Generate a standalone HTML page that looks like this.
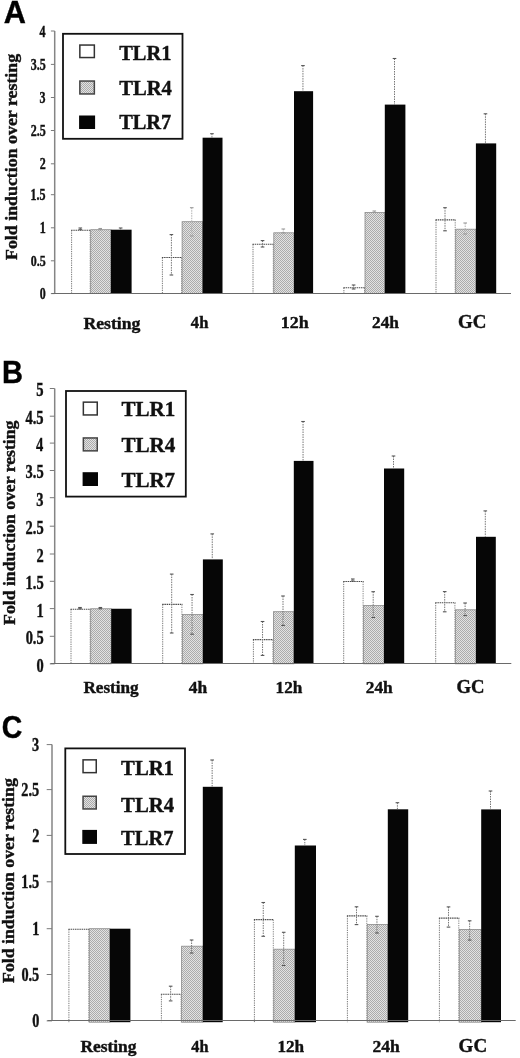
<!DOCTYPE html>
<html><head><meta charset="utf-8"><style>
html,body{margin:0;padding:0;background:#fff;}
svg{display:block;filter:grayscale(1);}
</style></head><body>
<svg width="520" height="1058" viewBox="0 0 520 1058">
<defs>
<pattern id="dot" width="2" height="2" patternUnits="userSpaceOnUse">
<rect width="2" height="2" fill="#e2e2e2"/>
<rect width="1" height="1" fill="#ababab"/>
<rect x="1" y="1" width="1" height="1" fill="#ababab"/>
</pattern>
</defs>
<rect width="520" height="1058" fill="#fff"/>
<text x="3.74" y="22.80" font-family='"Liberation Sans", sans-serif' font-weight="bold" font-size="30.52" textLength="22.17" lengthAdjust="spacingAndGlyphs" fill="#000" stroke="#000" stroke-width="0.4" >A</text>
<text transform="translate(17.00,259.70) rotate(-90)" x="-0.30" y="0" font-family='"Liberation Serif", serif' font-weight="bold" font-size="17.29" textLength="206.18" lengthAdjust="spacingAndGlyphs" fill="#111" stroke="#111" stroke-width="0.4">Fold induction over resting</text>
<line x1="54.70" y1="31.00" x2="54.70" y2="293.50" stroke="#858585" stroke-width="1.5" />
<line x1="50.90" y1="293.60" x2="54.70" y2="293.60" stroke="#7a7a7a" stroke-width="1" />
<text x="39.68" y="299.05" font-family='"Liberation Serif", serif' font-weight="bold" font-size="15.71" textLength="5.98" lengthAdjust="spacingAndGlyphs" fill="#111" stroke="#111" stroke-width="0.4" >0</text>
<line x1="50.90" y1="260.80" x2="54.70" y2="260.80" stroke="#7a7a7a" stroke-width="1" />
<text x="30.70" y="266.18" font-family='"Liberation Serif", serif' font-weight="bold" font-size="15.61" textLength="14.94" lengthAdjust="spacingAndGlyphs" fill="#111" stroke="#111" stroke-width="0.4" >0.5</text>
<line x1="50.90" y1="227.80" x2="54.70" y2="227.80" stroke="#7a7a7a" stroke-width="1" />
<text x="39.80" y="233.40" font-family='"Liberation Serif", serif' font-weight="bold" font-size="16.06" textLength="6.02" lengthAdjust="spacingAndGlyphs" fill="#111" stroke="#111" stroke-width="0.4" >1</text>
<line x1="50.90" y1="194.70" x2="54.70" y2="194.70" stroke="#7a7a7a" stroke-width="1" />
<text x="30.59" y="200.08" font-family='"Liberation Serif", serif' font-weight="bold" font-size="15.72" textLength="15.05" lengthAdjust="spacingAndGlyphs" fill="#111" stroke="#111" stroke-width="0.4" >1.5</text>
<line x1="50.90" y1="163.80" x2="54.70" y2="163.80" stroke="#7a7a7a" stroke-width="1" />
<text x="39.71" y="169.40" font-family='"Liberation Serif", serif' font-weight="bold" font-size="16.01" textLength="6.00" lengthAdjust="spacingAndGlyphs" fill="#111" stroke="#111" stroke-width="0.4" >2</text>
<line x1="50.90" y1="130.50" x2="54.70" y2="130.50" stroke="#7a7a7a" stroke-width="1" />
<text x="30.63" y="135.88" font-family='"Liberation Serif", serif' font-weight="bold" font-size="15.67" textLength="15.01" lengthAdjust="spacingAndGlyphs" fill="#111" stroke="#111" stroke-width="0.4" >2.5</text>
<line x1="50.90" y1="97.50" x2="54.70" y2="97.50" stroke="#7a7a7a" stroke-width="1" />
<text x="39.61" y="102.95" font-family='"Liberation Serif", serif' font-weight="bold" font-size="15.78" textLength="6.00" lengthAdjust="spacingAndGlyphs" fill="#111" stroke="#111" stroke-width="0.4" >3</text>
<line x1="50.90" y1="64.40" x2="54.70" y2="64.40" stroke="#7a7a7a" stroke-width="1" />
<text x="30.63" y="69.78" font-family='"Liberation Serif", serif' font-weight="bold" font-size="15.67" textLength="15.01" lengthAdjust="spacingAndGlyphs" fill="#111" stroke="#111" stroke-width="0.4" >3.5</text>
<line x1="50.90" y1="31.00" x2="54.70" y2="31.00" stroke="#7a7a7a" stroke-width="1" />
<text x="39.38" y="36.60" font-family='"Liberation Serif", serif' font-weight="bold" font-size="16.10" textLength="6.04" lengthAdjust="spacingAndGlyphs" fill="#111" stroke="#111" stroke-width="0.4" >4</text>
<rect x="71.10" y="229.70" width="19.60" height="63.80" fill="#fff" />
<line x1="71.60" y1="230.20" x2="71.60" y2="293.50" stroke="#7a7a7a" stroke-width="1" stroke-dasharray="1.3,1"/>
<line x1="90.20" y1="230.20" x2="90.20" y2="293.50" stroke="#8a8a8a" stroke-width="1" stroke-dasharray="1.3,1"/>
<line x1="71.10" y1="230.20" x2="90.70" y2="230.20" stroke="#4a4a4a" stroke-width="1.1" stroke-dasharray="1.5,0.7"/>
<line x1="80.30" y1="228.00" x2="80.30" y2="229.70" stroke="#777" stroke-width="1" stroke-dasharray="1.5,1"/>
<line x1="78.50" y1="228.00" x2="82.10" y2="228.00" stroke="#555" stroke-width="1.1" />
<line x1="78.50" y1="229.70" x2="82.10" y2="229.70" stroke="#555" stroke-width="1.1" />
<rect x="90.70" y="229.70" width="20.20" height="63.80" fill="url(#dot)" stroke="#8a8a8a" stroke-width="0.8"/>
<line x1="100.20" y1="228.50" x2="100.20" y2="229.70" stroke="#b0b0b0" stroke-width="1" stroke-dasharray="1.5,1"/>
<line x1="98.40" y1="228.50" x2="102.00" y2="228.50" stroke="#999" stroke-width="1.1" />
<line x1="98.40" y1="229.70" x2="102.00" y2="229.70" stroke="#999" stroke-width="1.1" />
<rect x="110.90" y="229.70" width="20.70" height="63.80" fill="#060606" />
<line x1="120.65" y1="228.00" x2="120.65" y2="229.70" stroke="#777" stroke-width="1" stroke-dasharray="1.5,1"/>
<line x1="118.85" y1="228.00" x2="122.45" y2="228.00" stroke="#555" stroke-width="1.1" />
<rect x="161.90" y="257.00" width="20.20" height="36.50" fill="#fff" />
<line x1="162.40" y1="257.50" x2="162.40" y2="293.50" stroke="#7a7a7a" stroke-width="1" stroke-dasharray="1.3,1"/>
<line x1="181.60" y1="257.50" x2="181.60" y2="293.50" stroke="#8a8a8a" stroke-width="1" stroke-dasharray="1.3,1"/>
<line x1="161.90" y1="257.50" x2="182.10" y2="257.50" stroke="#4a4a4a" stroke-width="1.1" stroke-dasharray="1.5,0.7"/>
<line x1="171.40" y1="234.60" x2="171.40" y2="275.00" stroke="#777" stroke-width="1" stroke-dasharray="1.5,1"/>
<line x1="169.60" y1="234.60" x2="173.20" y2="234.60" stroke="#555" stroke-width="1.1" />
<line x1="169.60" y1="275.00" x2="173.20" y2="275.00" stroke="#555" stroke-width="1.1" />
<rect x="182.10" y="221.70" width="20.50" height="71.80" fill="url(#dot)" stroke="#8a8a8a" stroke-width="0.8"/>
<line x1="191.75" y1="207.70" x2="191.75" y2="236.00" stroke="#b0b0b0" stroke-width="1" stroke-dasharray="1.5,1"/>
<line x1="189.95" y1="207.70" x2="193.55" y2="207.70" stroke="#999" stroke-width="1.1" />
<line x1="189.95" y1="236.00" x2="193.55" y2="236.00" stroke="#999" stroke-width="1.1" />
<rect x="202.60" y="137.70" width="19.90" height="155.80" fill="#060606" />
<line x1="211.95" y1="133.70" x2="211.95" y2="137.70" stroke="#777" stroke-width="1" stroke-dasharray="1.5,1"/>
<line x1="210.15" y1="133.70" x2="213.75" y2="133.70" stroke="#555" stroke-width="1.1" />
<rect x="252.50" y="243.80" width="21.30" height="49.70" fill="#fff" />
<line x1="253.00" y1="244.30" x2="253.00" y2="293.50" stroke="#7a7a7a" stroke-width="1" stroke-dasharray="1.3,1"/>
<line x1="273.30" y1="244.30" x2="273.30" y2="293.50" stroke="#8a8a8a" stroke-width="1" stroke-dasharray="1.3,1"/>
<line x1="252.50" y1="244.30" x2="273.80" y2="244.30" stroke="#4a4a4a" stroke-width="1.1" stroke-dasharray="1.5,0.7"/>
<line x1="262.55" y1="240.60" x2="262.55" y2="247.00" stroke="#777" stroke-width="1" stroke-dasharray="1.5,1"/>
<line x1="260.75" y1="240.60" x2="264.35" y2="240.60" stroke="#555" stroke-width="1.1" />
<line x1="260.75" y1="247.00" x2="264.35" y2="247.00" stroke="#555" stroke-width="1.1" />
<rect x="273.80" y="232.80" width="20.20" height="60.70" fill="url(#dot)" stroke="#8a8a8a" stroke-width="0.8"/>
<line x1="283.30" y1="229.00" x2="283.30" y2="232.80" stroke="#b0b0b0" stroke-width="1" stroke-dasharray="1.5,1"/>
<line x1="281.50" y1="229.00" x2="285.10" y2="229.00" stroke="#999" stroke-width="1.1" />
<line x1="281.50" y1="232.80" x2="285.10" y2="232.80" stroke="#999" stroke-width="1.1" />
<rect x="294.00" y="91.20" width="19.10" height="202.30" fill="#060606" />
<line x1="302.95" y1="65.60" x2="302.95" y2="91.20" stroke="#777" stroke-width="1" stroke-dasharray="1.5,1"/>
<line x1="301.15" y1="65.60" x2="304.75" y2="65.60" stroke="#555" stroke-width="1.1" />
<rect x="343.40" y="287.20" width="21.60" height="6.30" fill="#fff" />
<line x1="343.90" y1="287.70" x2="343.90" y2="293.50" stroke="#7a7a7a" stroke-width="1" stroke-dasharray="1.3,1"/>
<line x1="364.50" y1="287.70" x2="364.50" y2="293.50" stroke="#8a8a8a" stroke-width="1" stroke-dasharray="1.3,1"/>
<line x1="343.40" y1="287.70" x2="365.00" y2="287.70" stroke="#4a4a4a" stroke-width="1.1" stroke-dasharray="1.5,0.7"/>
<line x1="353.60" y1="285.00" x2="353.60" y2="289.00" stroke="#777" stroke-width="1" stroke-dasharray="1.5,1"/>
<line x1="351.80" y1="285.00" x2="355.40" y2="285.00" stroke="#555" stroke-width="1.1" />
<line x1="351.80" y1="289.00" x2="355.40" y2="289.00" stroke="#555" stroke-width="1.1" />
<rect x="365.00" y="212.50" width="19.80" height="81.00" fill="url(#dot)" stroke="#8a8a8a" stroke-width="0.8"/>
<line x1="374.30" y1="211.00" x2="374.30" y2="212.50" stroke="#b0b0b0" stroke-width="1" stroke-dasharray="1.5,1"/>
<line x1="372.50" y1="211.00" x2="376.10" y2="211.00" stroke="#999" stroke-width="1.1" />
<line x1="372.50" y1="212.50" x2="376.10" y2="212.50" stroke="#999" stroke-width="1.1" />
<rect x="384.80" y="104.60" width="20.60" height="188.90" fill="#060606" />
<line x1="394.50" y1="58.50" x2="394.50" y2="104.60" stroke="#777" stroke-width="1" stroke-dasharray="1.5,1"/>
<line x1="392.70" y1="58.50" x2="396.30" y2="58.50" stroke="#555" stroke-width="1.1" />
<rect x="435.50" y="219.40" width="20.20" height="74.10" fill="#fff" />
<line x1="436.00" y1="219.90" x2="436.00" y2="293.50" stroke="#7a7a7a" stroke-width="1" stroke-dasharray="1.3,1"/>
<line x1="455.20" y1="219.90" x2="455.20" y2="293.50" stroke="#8a8a8a" stroke-width="1" stroke-dasharray="1.3,1"/>
<line x1="435.50" y1="219.90" x2="455.70" y2="219.90" stroke="#4a4a4a" stroke-width="1.1" stroke-dasharray="1.5,0.7"/>
<line x1="445.00" y1="207.70" x2="445.00" y2="230.80" stroke="#777" stroke-width="1" stroke-dasharray="1.5,1"/>
<line x1="443.20" y1="207.70" x2="446.80" y2="207.70" stroke="#555" stroke-width="1.1" />
<line x1="443.20" y1="230.80" x2="446.80" y2="230.80" stroke="#555" stroke-width="1.1" />
<rect x="455.70" y="229.20" width="20.20" height="64.30" fill="url(#dot)" stroke="#8a8a8a" stroke-width="0.8"/>
<line x1="465.20" y1="223.00" x2="465.20" y2="234.00" stroke="#b0b0b0" stroke-width="1" stroke-dasharray="1.5,1"/>
<line x1="463.40" y1="223.00" x2="467.00" y2="223.00" stroke="#999" stroke-width="1.1" />
<line x1="463.40" y1="234.00" x2="467.00" y2="234.00" stroke="#999" stroke-width="1.1" />
<rect x="475.90" y="143.40" width="20.30" height="150.10" fill="#060606" />
<line x1="485.45" y1="113.80" x2="485.45" y2="143.40" stroke="#777" stroke-width="1" stroke-dasharray="1.5,1"/>
<line x1="483.65" y1="113.80" x2="487.25" y2="113.80" stroke="#555" stroke-width="1.1" />
<line x1="51.60" y1="293.50" x2="511.00" y2="293.50" stroke="#6a6a6a" stroke-width="1.1" />
<rect x="63.00" y="33.80" width="119.50" height="105.00" fill="#fff" stroke="#111" stroke-width="1.8"/>
<rect x="79.85" y="45.05" width="14.50" height="12.50" fill="#fff" stroke="#333" stroke-width="1.5"/>
<text x="119.18" y="59.60" font-family='"Liberation Serif", serif' font-weight="bold" font-size="21.36" textLength="52.18" lengthAdjust="spacingAndGlyphs" fill="#111" stroke="#111" stroke-width="0.4" >TLR1</text>
<rect x="79.85" y="81.05" width="14.50" height="12.90" fill="url(#dot)" stroke="#444" stroke-width="1.5"/>
<text x="119.18" y="95.30" font-family='"Liberation Serif", serif' font-weight="bold" font-size="21.42" textLength="52.70" lengthAdjust="spacingAndGlyphs" fill="#111" stroke="#111" stroke-width="0.4" >TLR4</text>
<rect x="79.85" y="116.25" width="14.50" height="12.00" fill="#050505" stroke="#050505" stroke-width="1.5"/>
<text x="119.18" y="129.20" font-family='"Liberation Serif", serif' font-weight="bold" font-size="21.53" textLength="52.12" lengthAdjust="spacingAndGlyphs" fill="#111" stroke="#111" stroke-width="0.4" >TLR7</text>
<text x="83.40" y="328.60" font-family='"Liberation Serif", serif' font-weight="bold" font-size="17.15" textLength="56.97" lengthAdjust="spacingAndGlyphs" fill="#111" stroke="#111" stroke-width="0.4" >Resting</text>
<text x="190.87" y="328.20" font-family='"Liberation Serif", serif' font-weight="bold" font-size="16.57" textLength="17.48" lengthAdjust="spacingAndGlyphs" fill="#111" stroke="#111" stroke-width="0.4" >4h</text>
<text x="280.76" y="328.00" font-family='"Liberation Serif", serif' font-weight="bold" font-size="17.01" textLength="27.91" lengthAdjust="spacingAndGlyphs" fill="#111" stroke="#111" stroke-width="0.4" >12h</text>
<text x="371.97" y="328.00" font-family='"Liberation Serif", serif' font-weight="bold" font-size="17.15" textLength="26.99" lengthAdjust="spacingAndGlyphs" fill="#111" stroke="#111" stroke-width="0.4" >24h</text>
<text x="458.08" y="328.42" font-family='"Liberation Serif", serif' font-weight="bold" font-size="18.31" textLength="28.36" lengthAdjust="spacingAndGlyphs" fill="#111" stroke="#111" stroke-width="0.4" >GC</text>
<text x="1.96" y="383.40" font-family='"Liberation Sans", sans-serif' font-weight="bold" font-size="31.11" textLength="20.96" lengthAdjust="spacingAndGlyphs" fill="#000" stroke="#000" stroke-width="0.4" >B</text>
<text transform="translate(14.80,624.60) rotate(-90)" x="-0.30" y="0" font-family='"Liberation Serif", serif' font-weight="bold" font-size="17.29" textLength="204.37" lengthAdjust="spacingAndGlyphs" fill="#111" stroke="#111" stroke-width="0.4">Fold induction over resting</text>
<line x1="54.70" y1="388.50" x2="54.70" y2="663.80" stroke="#858585" stroke-width="1.5" />
<line x1="49.80" y1="663.90" x2="54.70" y2="663.90" stroke="#7a7a7a" stroke-width="1" />
<text x="36.45" y="671.72" font-family='"Liberation Serif", serif' font-weight="bold" font-size="18.67" textLength="7.20" lengthAdjust="spacingAndGlyphs" fill="#111" stroke="#111" stroke-width="0.4" >0</text>
<line x1="49.80" y1="636.30" x2="54.70" y2="636.30" stroke="#7a7a7a" stroke-width="1" />
<text x="25.63" y="644.04" font-family='"Liberation Serif", serif' font-weight="bold" font-size="18.55" textLength="18.00" lengthAdjust="spacingAndGlyphs" fill="#111" stroke="#111" stroke-width="0.4" >0.5</text>
<line x1="49.80" y1="608.60" x2="54.70" y2="608.60" stroke="#7a7a7a" stroke-width="1" />
<text x="36.60" y="616.60" font-family='"Liberation Serif", serif' font-weight="bold" font-size="19.09" textLength="7.25" lengthAdjust="spacingAndGlyphs" fill="#111" stroke="#111" stroke-width="0.4" >1</text>
<line x1="49.80" y1="581.30" x2="54.70" y2="581.30" stroke="#7a7a7a" stroke-width="1" />
<text x="25.50" y="589.04" font-family='"Liberation Serif", serif' font-weight="bold" font-size="18.69" textLength="18.13" lengthAdjust="spacingAndGlyphs" fill="#111" stroke="#111" stroke-width="0.4" >1.5</text>
<line x1="49.80" y1="554.00" x2="54.70" y2="554.00" stroke="#7a7a7a" stroke-width="1" />
<text x="36.49" y="562.00" font-family='"Liberation Serif", serif' font-weight="bold" font-size="19.03" textLength="7.23" lengthAdjust="spacingAndGlyphs" fill="#111" stroke="#111" stroke-width="0.4" >2</text>
<line x1="49.80" y1="526.20" x2="54.70" y2="526.20" stroke="#7a7a7a" stroke-width="1" />
<text x="25.55" y="533.94" font-family='"Liberation Serif", serif' font-weight="bold" font-size="18.63" textLength="18.08" lengthAdjust="spacingAndGlyphs" fill="#111" stroke="#111" stroke-width="0.4" >2.5</text>
<line x1="49.80" y1="497.70" x2="54.70" y2="497.70" stroke="#7a7a7a" stroke-width="1" />
<text x="36.36" y="505.52" font-family='"Liberation Serif", serif' font-weight="bold" font-size="18.75" textLength="7.23" lengthAdjust="spacingAndGlyphs" fill="#111" stroke="#111" stroke-width="0.4" >3</text>
<line x1="49.80" y1="470.50" x2="54.70" y2="470.50" stroke="#7a7a7a" stroke-width="1" />
<text x="25.55" y="478.24" font-family='"Liberation Serif", serif' font-weight="bold" font-size="18.63" textLength="18.08" lengthAdjust="spacingAndGlyphs" fill="#111" stroke="#111" stroke-width="0.4" >3.5</text>
<line x1="49.80" y1="443.10" x2="54.70" y2="443.10" stroke="#7a7a7a" stroke-width="1" />
<text x="36.10" y="451.10" font-family='"Liberation Serif", serif' font-weight="bold" font-size="19.14" textLength="7.27" lengthAdjust="spacingAndGlyphs" fill="#111" stroke="#111" stroke-width="0.4" >4</text>
<line x1="49.80" y1="416.20" x2="54.70" y2="416.20" stroke="#7a7a7a" stroke-width="1" />
<text x="25.45" y="423.93" font-family='"Liberation Serif", serif' font-weight="bold" font-size="18.74" textLength="18.19" lengthAdjust="spacingAndGlyphs" fill="#111" stroke="#111" stroke-width="0.4" >4.5</text>
<line x1="49.80" y1="388.50" x2="54.70" y2="388.50" stroke="#7a7a7a" stroke-width="1" />
<text x="36.32" y="396.31" font-family='"Liberation Serif", serif' font-weight="bold" font-size="18.96" textLength="7.31" lengthAdjust="spacingAndGlyphs" fill="#111" stroke="#111" stroke-width="0.4" >5</text>
<rect x="70.50" y="608.75" width="20.20" height="55.05" fill="#fff" />
<line x1="71.00" y1="609.25" x2="71.00" y2="663.80" stroke="#7a7a7a" stroke-width="1" stroke-dasharray="1.3,1"/>
<line x1="90.20" y1="609.25" x2="90.20" y2="663.80" stroke="#8a8a8a" stroke-width="1" stroke-dasharray="1.3,1"/>
<line x1="70.50" y1="609.25" x2="90.70" y2="609.25" stroke="#4a4a4a" stroke-width="1.1" stroke-dasharray="1.5,0.7"/>
<line x1="80.00" y1="607.50" x2="80.00" y2="608.75" stroke="#777" stroke-width="1" stroke-dasharray="1.5,1"/>
<line x1="78.20" y1="607.50" x2="81.80" y2="607.50" stroke="#555" stroke-width="1.1" />
<line x1="78.20" y1="608.75" x2="81.80" y2="608.75" stroke="#555" stroke-width="1.1" />
<rect x="90.70" y="608.75" width="20.50" height="55.05" fill="url(#dot)" stroke="#8a8a8a" stroke-width="0.8"/>
<line x1="100.35" y1="607.50" x2="100.35" y2="608.75" stroke="#777" stroke-width="1" stroke-dasharray="1.5,1"/>
<line x1="98.55" y1="607.50" x2="102.15" y2="607.50" stroke="#555" stroke-width="1.1" />
<line x1="98.55" y1="608.75" x2="102.15" y2="608.75" stroke="#555" stroke-width="1.1" />
<rect x="111.20" y="608.75" width="20.40" height="55.05" fill="#060606" />
<rect x="162.20" y="603.90" width="20.20" height="59.90" fill="#fff" />
<line x1="162.70" y1="604.40" x2="162.70" y2="663.80" stroke="#7a7a7a" stroke-width="1" stroke-dasharray="1.3,1"/>
<line x1="181.90" y1="604.40" x2="181.90" y2="663.80" stroke="#8a8a8a" stroke-width="1" stroke-dasharray="1.3,1"/>
<line x1="162.20" y1="604.40" x2="182.40" y2="604.40" stroke="#4a4a4a" stroke-width="1.1" stroke-dasharray="1.5,0.7"/>
<line x1="171.70" y1="574.10" x2="171.70" y2="633.00" stroke="#777" stroke-width="1" stroke-dasharray="1.5,1"/>
<line x1="169.90" y1="574.10" x2="173.50" y2="574.10" stroke="#555" stroke-width="1.1" />
<line x1="169.90" y1="633.00" x2="173.50" y2="633.00" stroke="#555" stroke-width="1.1" />
<rect x="182.40" y="614.60" width="20.50" height="49.20" fill="url(#dot)" stroke="#8a8a8a" stroke-width="0.8"/>
<line x1="192.05" y1="594.50" x2="192.05" y2="634.20" stroke="#777" stroke-width="1" stroke-dasharray="1.5,1"/>
<line x1="190.25" y1="594.50" x2="193.85" y2="594.50" stroke="#555" stroke-width="1.1" />
<line x1="190.25" y1="634.20" x2="193.85" y2="634.20" stroke="#555" stroke-width="1.1" />
<rect x="202.90" y="559.40" width="19.90" height="104.40" fill="#060606" />
<line x1="212.25" y1="533.90" x2="212.25" y2="559.40" stroke="#777" stroke-width="1" stroke-dasharray="1.5,1"/>
<line x1="210.45" y1="533.90" x2="214.05" y2="533.90" stroke="#555" stroke-width="1.1" />
<rect x="252.90" y="639.10" width="20.50" height="24.70" fill="#fff" />
<line x1="253.40" y1="639.60" x2="253.40" y2="663.80" stroke="#7a7a7a" stroke-width="1" stroke-dasharray="1.3,1"/>
<line x1="272.90" y1="639.60" x2="272.90" y2="663.80" stroke="#8a8a8a" stroke-width="1" stroke-dasharray="1.3,1"/>
<line x1="252.90" y1="639.60" x2="273.40" y2="639.60" stroke="#4a4a4a" stroke-width="1.1" stroke-dasharray="1.5,0.7"/>
<line x1="262.55" y1="621.50" x2="262.55" y2="655.40" stroke="#777" stroke-width="1" stroke-dasharray="1.5,1"/>
<line x1="260.75" y1="621.50" x2="264.35" y2="621.50" stroke="#555" stroke-width="1.1" />
<line x1="260.75" y1="655.40" x2="264.35" y2="655.40" stroke="#555" stroke-width="1.1" />
<rect x="273.40" y="611.70" width="20.40" height="52.10" fill="url(#dot)" stroke="#8a8a8a" stroke-width="0.8"/>
<line x1="283.00" y1="596.00" x2="283.00" y2="625.50" stroke="#777" stroke-width="1" stroke-dasharray="1.5,1"/>
<line x1="281.20" y1="596.00" x2="284.80" y2="596.00" stroke="#555" stroke-width="1.1" />
<line x1="281.20" y1="625.50" x2="284.80" y2="625.50" stroke="#555" stroke-width="1.1" />
<rect x="293.80" y="460.90" width="19.70" height="202.90" fill="#060606" />
<line x1="303.05" y1="421.50" x2="303.05" y2="460.90" stroke="#777" stroke-width="1" stroke-dasharray="1.5,1"/>
<line x1="301.25" y1="421.50" x2="304.85" y2="421.50" stroke="#555" stroke-width="1.1" />
<rect x="343.20" y="581.00" width="20.40" height="82.80" fill="#fff" />
<line x1="343.70" y1="581.50" x2="343.70" y2="663.80" stroke="#7a7a7a" stroke-width="1" stroke-dasharray="1.3,1"/>
<line x1="363.10" y1="581.50" x2="363.10" y2="663.80" stroke="#8a8a8a" stroke-width="1" stroke-dasharray="1.3,1"/>
<line x1="343.20" y1="581.50" x2="363.60" y2="581.50" stroke="#4a4a4a" stroke-width="1.1" stroke-dasharray="1.5,0.7"/>
<line x1="352.80" y1="579.00" x2="352.80" y2="581.00" stroke="#777" stroke-width="1" stroke-dasharray="1.5,1"/>
<line x1="351.00" y1="579.00" x2="354.60" y2="579.00" stroke="#555" stroke-width="1.1" />
<line x1="351.00" y1="581.00" x2="354.60" y2="581.00" stroke="#555" stroke-width="1.1" />
<rect x="363.60" y="605.50" width="20.40" height="58.30" fill="url(#dot)" stroke="#8a8a8a" stroke-width="0.8"/>
<line x1="373.20" y1="591.70" x2="373.20" y2="617.50" stroke="#777" stroke-width="1" stroke-dasharray="1.5,1"/>
<line x1="371.40" y1="591.70" x2="375.00" y2="591.70" stroke="#555" stroke-width="1.1" />
<line x1="371.40" y1="617.50" x2="375.00" y2="617.50" stroke="#555" stroke-width="1.1" />
<rect x="384.00" y="468.50" width="20.20" height="195.30" fill="#060606" />
<line x1="393.50" y1="456.00" x2="393.50" y2="468.50" stroke="#777" stroke-width="1" stroke-dasharray="1.5,1"/>
<line x1="391.70" y1="456.00" x2="395.30" y2="456.00" stroke="#555" stroke-width="1.1" />
<rect x="435.20" y="602.30" width="20.20" height="61.50" fill="#fff" />
<line x1="435.70" y1="602.80" x2="435.70" y2="663.80" stroke="#7a7a7a" stroke-width="1" stroke-dasharray="1.3,1"/>
<line x1="454.90" y1="602.80" x2="454.90" y2="663.80" stroke="#8a8a8a" stroke-width="1" stroke-dasharray="1.3,1"/>
<line x1="435.20" y1="602.80" x2="455.40" y2="602.80" stroke="#4a4a4a" stroke-width="1.1" stroke-dasharray="1.5,0.7"/>
<line x1="444.70" y1="591.60" x2="444.70" y2="611.80" stroke="#777" stroke-width="1" stroke-dasharray="1.5,1"/>
<line x1="442.90" y1="591.60" x2="446.50" y2="591.60" stroke="#555" stroke-width="1.1" />
<line x1="442.90" y1="611.80" x2="446.50" y2="611.80" stroke="#555" stroke-width="1.1" />
<rect x="455.40" y="609.80" width="20.60" height="54.00" fill="url(#dot)" stroke="#8a8a8a" stroke-width="0.8"/>
<line x1="465.10" y1="603.00" x2="465.10" y2="615.60" stroke="#777" stroke-width="1" stroke-dasharray="1.5,1"/>
<line x1="463.30" y1="603.00" x2="466.90" y2="603.00" stroke="#555" stroke-width="1.1" />
<line x1="463.30" y1="615.60" x2="466.90" y2="615.60" stroke="#555" stroke-width="1.1" />
<rect x="476.00" y="536.80" width="19.80" height="127.00" fill="#060606" />
<line x1="485.30" y1="510.90" x2="485.30" y2="536.80" stroke="#777" stroke-width="1" stroke-dasharray="1.5,1"/>
<line x1="483.50" y1="510.90" x2="487.10" y2="510.90" stroke="#555" stroke-width="1.1" />
<line x1="50.50" y1="663.50" x2="511.30" y2="663.50" stroke="#6a6a6a" stroke-width="1.1" />
<rect x="66.00" y="391.00" width="119.80" height="105.60" fill="#fff" stroke="#111" stroke-width="1.8"/>
<rect x="83.35" y="402.15" width="13.90" height="12.80" fill="#fff" stroke="#333" stroke-width="1.5"/>
<text x="121.47" y="416.40" font-family='"Liberation Serif", serif' font-weight="bold" font-size="21.51" textLength="53.72" lengthAdjust="spacingAndGlyphs" fill="#111" stroke="#111" stroke-width="0.4" >TLR1</text>
<rect x="83.35" y="437.95" width="13.90" height="12.90" fill="url(#dot)" stroke="#444" stroke-width="1.5"/>
<text x="121.47" y="452.30" font-family='"Liberation Serif", serif' font-weight="bold" font-size="21.57" textLength="53.92" lengthAdjust="spacingAndGlyphs" fill="#111" stroke="#111" stroke-width="0.4" >TLR4</text>
<rect x="83.35" y="472.95" width="13.90" height="12.30" fill="#050505" stroke="#050505" stroke-width="1.5"/>
<text x="121.47" y="487.20" font-family='"Liberation Serif", serif' font-weight="bold" font-size="21.23" textLength="53.64" lengthAdjust="spacingAndGlyphs" fill="#111" stroke="#111" stroke-width="0.4" >TLR7</text>
<text x="83.41" y="693.40" font-family='"Liberation Serif", serif' font-weight="bold" font-size="16.00" textLength="55.26" lengthAdjust="spacingAndGlyphs" fill="#111" stroke="#111" stroke-width="0.4" >Resting</text>
<text x="188.76" y="693.10" font-family='"Liberation Serif", serif' font-weight="bold" font-size="16.86" textLength="18.40" lengthAdjust="spacingAndGlyphs" fill="#111" stroke="#111" stroke-width="0.4" >4h</text>
<text x="275.62" y="693.10" font-family='"Liberation Serif", serif' font-weight="bold" font-size="17.29" textLength="26.74" lengthAdjust="spacingAndGlyphs" fill="#111" stroke="#111" stroke-width="0.4" >12h</text>
<text x="365.77" y="693.10" font-family='"Liberation Serif", serif' font-weight="bold" font-size="17.29" textLength="26.99" lengthAdjust="spacingAndGlyphs" fill="#111" stroke="#111" stroke-width="0.4" >24h</text>
<text x="456.59" y="693.22" font-family='"Liberation Serif", serif' font-weight="bold" font-size="18.60" textLength="28.04" lengthAdjust="spacingAndGlyphs" fill="#111" stroke="#111" stroke-width="0.4" >GC</text>
<text x="1.73" y="738.40" font-family='"Liberation Sans", sans-serif' font-weight="bold" font-size="30.65" textLength="20.54" lengthAdjust="spacingAndGlyphs" fill="#000" stroke="#000" stroke-width="0.4" >C</text>
<text transform="translate(13.90,982.60) rotate(-90)" x="-0.30" y="0" font-family='"Liberation Serif", serif' font-weight="bold" font-size="17.15" textLength="204.67" lengthAdjust="spacingAndGlyphs" fill="#111" stroke="#111" stroke-width="0.4">Fold induction over resting</text>
<line x1="52.00" y1="744.60" x2="52.00" y2="1020.90" stroke="#858585" stroke-width="1.5" />
<line x1="46.70" y1="1020.90" x2="52.00" y2="1020.90" stroke="#7a7a7a" stroke-width="1" />
<text x="32.13" y="1027.32" font-family='"Liberation Serif", serif' font-weight="bold" font-size="18.08" textLength="7.11" lengthAdjust="spacingAndGlyphs" fill="#111" stroke="#111" stroke-width="0.4" >0</text>
<line x1="46.70" y1="974.50" x2="52.00" y2="974.50" stroke="#7a7a7a" stroke-width="1" />
<text x="21.45" y="980.85" font-family='"Liberation Serif", serif' font-weight="bold" font-size="17.96" textLength="17.77" lengthAdjust="spacingAndGlyphs" fill="#111" stroke="#111" stroke-width="0.4" >0.5</text>
<line x1="46.70" y1="928.70" x2="52.00" y2="928.70" stroke="#7a7a7a" stroke-width="1" />
<text x="32.28" y="935.30" font-family='"Liberation Serif", serif' font-weight="bold" font-size="18.48" textLength="7.16" lengthAdjust="spacingAndGlyphs" fill="#111" stroke="#111" stroke-width="0.4" >1</text>
<line x1="46.70" y1="881.80" x2="52.00" y2="881.80" stroke="#7a7a7a" stroke-width="1" />
<text x="21.32" y="888.14" font-family='"Liberation Serif", serif' font-weight="bold" font-size="18.09" textLength="17.90" lengthAdjust="spacingAndGlyphs" fill="#111" stroke="#111" stroke-width="0.4" >1.5</text>
<line x1="46.70" y1="835.40" x2="52.00" y2="835.40" stroke="#7a7a7a" stroke-width="1" />
<text x="32.17" y="842.00" font-family='"Liberation Serif", serif' font-weight="bold" font-size="18.43" textLength="7.14" lengthAdjust="spacingAndGlyphs" fill="#111" stroke="#111" stroke-width="0.4" >2</text>
<line x1="46.70" y1="789.60" x2="52.00" y2="789.60" stroke="#7a7a7a" stroke-width="1" />
<text x="21.37" y="795.94" font-family='"Liberation Serif", serif' font-weight="bold" font-size="18.04" textLength="17.85" lengthAdjust="spacingAndGlyphs" fill="#111" stroke="#111" stroke-width="0.4" >2.5</text>
<line x1="46.70" y1="744.60" x2="52.00" y2="744.60" stroke="#7a7a7a" stroke-width="1" />
<text x="32.05" y="751.02" font-family='"Liberation Serif", serif' font-weight="bold" font-size="18.16" textLength="7.14" lengthAdjust="spacingAndGlyphs" fill="#111" stroke="#111" stroke-width="0.4" >3</text>
<rect x="68.40" y="928.70" width="20.90" height="93.50" fill="#fff" />
<line x1="68.90" y1="929.20" x2="68.90" y2="1022.20" stroke="#7a7a7a" stroke-width="1" stroke-dasharray="1.3,1"/>
<line x1="88.80" y1="929.20" x2="88.80" y2="1022.20" stroke="#8a8a8a" stroke-width="1" stroke-dasharray="1.3,1"/>
<line x1="68.40" y1="929.20" x2="89.30" y2="929.20" stroke="#4a4a4a" stroke-width="1.1" stroke-dasharray="1.5,0.7"/>
<rect x="89.30" y="928.70" width="20.50" height="93.50" fill="url(#dot)" stroke="#8a8a8a" stroke-width="0.8"/>
<rect x="109.80" y="928.70" width="20.60" height="93.50" fill="#060606" />
<rect x="160.90" y="993.80" width="20.70" height="28.40" fill="#fff" />
<line x1="161.40" y1="994.30" x2="161.40" y2="1022.20" stroke="#7a7a7a" stroke-width="1" stroke-dasharray="1.3,1"/>
<line x1="181.10" y1="994.30" x2="181.10" y2="1022.20" stroke="#8a8a8a" stroke-width="1" stroke-dasharray="1.3,1"/>
<line x1="160.90" y1="994.30" x2="181.60" y2="994.30" stroke="#4a4a4a" stroke-width="1.1" stroke-dasharray="1.5,0.7"/>
<line x1="170.65" y1="986.20" x2="170.65" y2="1000.90" stroke="#777" stroke-width="1" stroke-dasharray="1.5,1"/>
<line x1="168.85" y1="986.20" x2="172.45" y2="986.20" stroke="#555" stroke-width="1.1" />
<line x1="168.85" y1="1000.90" x2="172.45" y2="1000.90" stroke="#555" stroke-width="1.1" />
<rect x="181.60" y="946.20" width="21.20" height="76.00" fill="url(#dot)" stroke="#8a8a8a" stroke-width="0.8"/>
<line x1="191.60" y1="940.00" x2="191.60" y2="953.00" stroke="#777" stroke-width="1" stroke-dasharray="1.5,1"/>
<line x1="189.80" y1="940.00" x2="193.40" y2="940.00" stroke="#555" stroke-width="1.1" />
<line x1="189.80" y1="953.00" x2="193.40" y2="953.00" stroke="#555" stroke-width="1.1" />
<rect x="202.80" y="786.80" width="19.90" height="235.40" fill="#060606" />
<line x1="212.15" y1="760.00" x2="212.15" y2="786.80" stroke="#777" stroke-width="1" stroke-dasharray="1.5,1"/>
<line x1="210.35" y1="760.00" x2="213.95" y2="760.00" stroke="#555" stroke-width="1.1" />
<rect x="253.90" y="919.10" width="19.90" height="103.10" fill="#fff" />
<line x1="254.40" y1="919.60" x2="254.40" y2="1022.20" stroke="#7a7a7a" stroke-width="1" stroke-dasharray="1.3,1"/>
<line x1="273.30" y1="919.60" x2="273.30" y2="1022.20" stroke="#8a8a8a" stroke-width="1" stroke-dasharray="1.3,1"/>
<line x1="253.90" y1="919.60" x2="273.80" y2="919.60" stroke="#4a4a4a" stroke-width="1.1" stroke-dasharray="1.5,0.7"/>
<line x1="263.25" y1="902.50" x2="263.25" y2="936.30" stroke="#777" stroke-width="1" stroke-dasharray="1.5,1"/>
<line x1="261.45" y1="902.50" x2="265.05" y2="902.50" stroke="#555" stroke-width="1.1" />
<line x1="261.45" y1="936.30" x2="265.05" y2="936.30" stroke="#555" stroke-width="1.1" />
<rect x="273.80" y="949.20" width="21.00" height="73.00" fill="url(#dot)" stroke="#8a8a8a" stroke-width="0.8"/>
<line x1="283.70" y1="932.30" x2="283.70" y2="965.50" stroke="#777" stroke-width="1" stroke-dasharray="1.5,1"/>
<line x1="281.90" y1="932.30" x2="285.50" y2="932.30" stroke="#555" stroke-width="1.1" />
<line x1="281.90" y1="965.50" x2="285.50" y2="965.50" stroke="#555" stroke-width="1.1" />
<rect x="294.80" y="845.50" width="21.20" height="176.70" fill="#060606" />
<line x1="304.80" y1="839.40" x2="304.80" y2="845.50" stroke="#777" stroke-width="1" stroke-dasharray="1.5,1"/>
<line x1="303.00" y1="839.40" x2="306.60" y2="839.40" stroke="#555" stroke-width="1.1" />
<rect x="346.90" y="915.40" width="20.40" height="106.80" fill="#fff" />
<line x1="347.40" y1="915.90" x2="347.40" y2="1022.20" stroke="#7a7a7a" stroke-width="1" stroke-dasharray="1.3,1"/>
<line x1="366.80" y1="915.90" x2="366.80" y2="1022.20" stroke="#8a8a8a" stroke-width="1" stroke-dasharray="1.3,1"/>
<line x1="346.90" y1="915.90" x2="367.30" y2="915.90" stroke="#4a4a4a" stroke-width="1.1" stroke-dasharray="1.5,0.7"/>
<line x1="356.50" y1="906.80" x2="356.50" y2="924.60" stroke="#777" stroke-width="1" stroke-dasharray="1.5,1"/>
<line x1="354.70" y1="906.80" x2="358.30" y2="906.80" stroke="#555" stroke-width="1.1" />
<line x1="354.70" y1="924.60" x2="358.30" y2="924.60" stroke="#555" stroke-width="1.1" />
<rect x="367.30" y="924.60" width="20.50" height="97.60" fill="url(#dot)" stroke="#8a8a8a" stroke-width="0.8"/>
<line x1="376.95" y1="916.30" x2="376.95" y2="933.00" stroke="#777" stroke-width="1" stroke-dasharray="1.5,1"/>
<line x1="375.15" y1="916.30" x2="378.75" y2="916.30" stroke="#555" stroke-width="1.1" />
<line x1="375.15" y1="933.00" x2="378.75" y2="933.00" stroke="#555" stroke-width="1.1" />
<rect x="387.80" y="809.30" width="20.40" height="212.90" fill="#060606" />
<line x1="397.40" y1="802.70" x2="397.40" y2="809.30" stroke="#777" stroke-width="1" stroke-dasharray="1.5,1"/>
<line x1="395.60" y1="802.70" x2="399.20" y2="802.70" stroke="#555" stroke-width="1.1" />
<rect x="438.90" y="917.60" width="20.40" height="104.60" fill="#fff" />
<line x1="439.40" y1="918.10" x2="439.40" y2="1022.20" stroke="#7a7a7a" stroke-width="1" stroke-dasharray="1.3,1"/>
<line x1="458.80" y1="918.10" x2="458.80" y2="1022.20" stroke="#8a8a8a" stroke-width="1" stroke-dasharray="1.3,1"/>
<line x1="438.90" y1="918.10" x2="459.30" y2="918.10" stroke="#4a4a4a" stroke-width="1.1" stroke-dasharray="1.5,0.7"/>
<line x1="448.50" y1="906.90" x2="448.50" y2="927.10" stroke="#777" stroke-width="1" stroke-dasharray="1.5,1"/>
<line x1="446.70" y1="906.90" x2="450.30" y2="906.90" stroke="#555" stroke-width="1.1" />
<line x1="446.70" y1="927.10" x2="450.30" y2="927.10" stroke="#555" stroke-width="1.1" />
<rect x="459.30" y="929.40" width="21.90" height="92.80" fill="url(#dot)" stroke="#8a8a8a" stroke-width="0.8"/>
<line x1="469.65" y1="920.80" x2="469.65" y2="940.10" stroke="#777" stroke-width="1" stroke-dasharray="1.5,1"/>
<line x1="467.85" y1="920.80" x2="471.45" y2="920.80" stroke="#555" stroke-width="1.1" />
<line x1="467.85" y1="940.10" x2="471.45" y2="940.10" stroke="#555" stroke-width="1.1" />
<rect x="481.20" y="809.40" width="19.80" height="212.80" fill="#060606" />
<line x1="490.50" y1="791.00" x2="490.50" y2="809.40" stroke="#777" stroke-width="1" stroke-dasharray="1.5,1"/>
<line x1="488.70" y1="791.00" x2="492.30" y2="791.00" stroke="#555" stroke-width="1.1" />
<line x1="47.50" y1="1020.50" x2="515.70" y2="1020.50" stroke="#6a6a6a" stroke-width="1.1" />
<rect x="65.30" y="748.40" width="119.70" height="105.60" fill="#fff" stroke="#111" stroke-width="1.8"/>
<rect x="83.05" y="759.85" width="13.20" height="12.80" fill="#fff" stroke="#333" stroke-width="1.5"/>
<text x="121.08" y="774.70" font-family='"Liberation Serif", serif' font-weight="bold" font-size="20.90" textLength="52.89" lengthAdjust="spacingAndGlyphs" fill="#111" stroke="#111" stroke-width="0.4" >TLR1</text>
<rect x="83.05" y="796.25" width="13.20" height="12.70" fill="url(#dot)" stroke="#444" stroke-width="1.5"/>
<text x="121.08" y="811.90" font-family='"Liberation Serif", serif' font-weight="bold" font-size="21.12" textLength="53.01" lengthAdjust="spacingAndGlyphs" fill="#111" stroke="#111" stroke-width="0.4" >TLR4</text>
<rect x="83.05" y="830.65" width="13.20" height="12.50" fill="#050505" stroke="#050505" stroke-width="1.5"/>
<text x="121.08" y="844.60" font-family='"Liberation Serif", serif' font-weight="bold" font-size="21.23" textLength="52.32" lengthAdjust="spacingAndGlyphs" fill="#111" stroke="#111" stroke-width="0.4" >TLR7</text>
<text x="80.40" y="1052.20" font-family='"Liberation Serif", serif' font-weight="bold" font-size="16.57" textLength="56.07" lengthAdjust="spacingAndGlyphs" fill="#111" stroke="#111" stroke-width="0.4" >Resting</text>
<text x="191.28" y="1051.90" font-family='"Liberation Serif", serif' font-weight="bold" font-size="16.86" textLength="17.17" lengthAdjust="spacingAndGlyphs" fill="#111" stroke="#111" stroke-width="0.4" >4h</text>
<text x="277.42" y="1052.10" font-family='"Liberation Serif", serif' font-weight="bold" font-size="17.15" textLength="26.74" lengthAdjust="spacingAndGlyphs" fill="#111" stroke="#111" stroke-width="0.4" >12h</text>
<text x="372.46" y="1051.80" font-family='"Liberation Serif", serif' font-weight="bold" font-size="17.73" textLength="27.30" lengthAdjust="spacingAndGlyphs" fill="#111" stroke="#111" stroke-width="0.4" >24h</text>
<text x="458.57" y="1052.32" font-family='"Liberation Serif", serif' font-weight="bold" font-size="18.90" textLength="28.58" lengthAdjust="spacingAndGlyphs" fill="#111" stroke="#111" stroke-width="0.4" >GC</text>
</svg>
</body></html>
